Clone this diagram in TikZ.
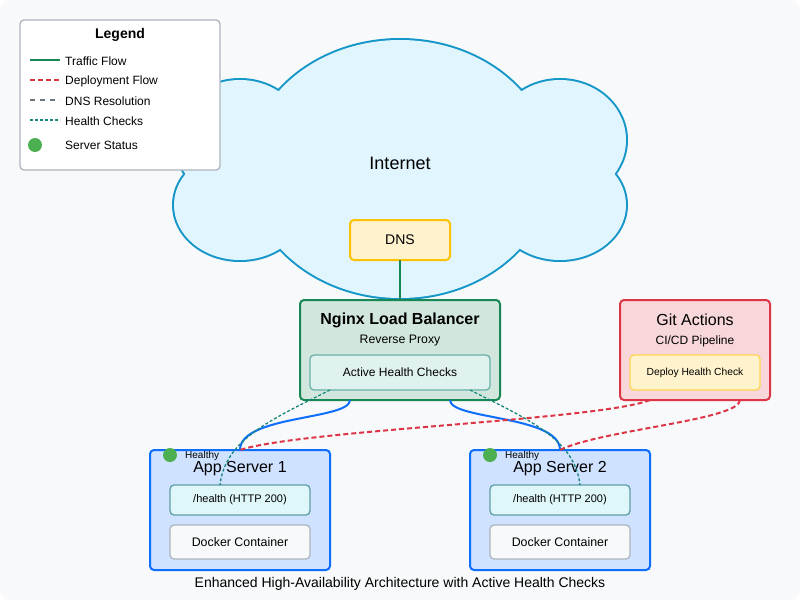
\documentclass[tikz,border=0pt]{standalone}
\usepackage{fontspec}
\setmainfont{Liberation Sans}
\definecolor{bgc}{HTML}{F8F9FA}
\definecolor{legline}{HTML}{ADB5BD}
\definecolor{cloudline}{HTML}{1496C8}
\definecolor{cloudfill}{HTML}{E1F5FE}
\definecolor{trafficc}{HTML}{198754}
\definecolor{deployc}{HTML}{DC3545}
\definecolor{dnsc}{HTML}{6C757D}
\definecolor{healthc}{HTML}{17877B}
\definecolor{bluec}{HTML}{0D6EFD}
\definecolor{appfill}{HTML}{CFE2FF}
\definecolor{hfill}{HTML}{E0F7FA}
\definecolor{hline}{HTML}{5F9EA8}
\definecolor{ngfill}{HTML}{D1E7DD}
\definecolor{ahcfill}{HTML}{E0F2EF}
\definecolor{ahcline}{HTML}{66B2A8}
\definecolor{gitfill}{HTML}{F8D7DA}
\definecolor{dnsfill}{HTML}{FFF3CD}
\definecolor{dnsline}{HTML}{FFC107}
\definecolor{depline}{HTML}{FFD54F}
\definecolor{dockfill}{HTML}{F8F9FA}
\definecolor{okgreen}{HTML}{4CAF50}
\begin{document}
\begin{tikzpicture}[x=1pt,y=-1pt,
  fs/.style={font=\fontsize{#1}{#1}\selectfont},
  fsb/.style={font=\fontsize{#1}{#1}\selectfont\bfseries},
  box/.style={draw, rounded corners=4pt, inner sep=0pt, outer sep=0pt},
  trafficln/.style={draw=trafficc, line width=2pt},
  blueln/.style={draw=bluec, line width=2pt},
  deployln/.style={draw=deployc, line width=2pt, dash pattern=on 5pt off 3pt},
  dnsln/.style={draw=dnsc, line width=2pt, dash pattern=on 5pt off 5pt},
  healthln/.style={draw=healthc, line width=1.3pt, dash pattern=on 3pt off 2pt},
  appbox/.style={box, fill=appfill, draw=bluec, line width=2pt, minimum width=180pt, minimum height=120pt},
  hbox/.style={box, fill=hfill, draw=hline, line width=1.3pt, minimum width=140pt, minimum height=30pt, fs=11},
  dockbox/.style={box, fill=dockfill, draw=legline, line width=1.3pt, minimum width=140pt, minimum height=34pt, fs=12.4},
  legtext/.style={fs=12, anchor=west, inner sep=0pt},
  dot/.style={circle, fill=okgreen, minimum size=14pt, inner sep=0pt}
]
\useasboundingbox (0,0) rectangle (800,600);
\fill[bgc, rounded corners=10pt] (0,0) rectangle (800,600);

% Cloud
\begin{scope}
  \foreach \cx/\cy/\rx/\ry in {400/169/152/129, 240/140/66/60, 560/140/66/60, 240/205/66/55, 560/205/66/55}
    \draw[cloudline, line width=4pt] (\cx,\cy) ellipse [x radius=\rx, y radius=\ry];
  \foreach \cx/\cy/\rx/\ry in {400/169/152/129, 240/140/66/60, 560/140/66/60, 240/205/66/55, 560/205/66/55}
    \fill[cloudfill] (\cx,\cy) ellipse [x radius=\rx, y radius=\ry];
\end{scope}
\node[fs=18] (internet) at (400,163) {Internet};

% Legend
\node[box, fill=white, draw=legline, line width=1.3pt, minimum width=200pt, minimum height=150pt] (legend) at (120,95) {};
\node[fsb=14] (legt) at (120,35) {Legend};
\draw[trafficln] (30,60) -- (60,60);
\draw[deployln] (30,80) -- (60,80);
\draw[dnsln] (30,100) -- (60,100);
\draw[healthln] (30,120) -- (60,120);
\node[dot] (legdot) at (35,145) {};
\node[legtext] (l1) at (65,61) {Traffic Flow};
\node[legtext] (l2) at (65,81) {Deployment Flow};
\node[legtext] (l3) at (65,101) {DNS Resolution};
\node[legtext] (l4) at (65,121) {Health Checks};
\node[legtext] (l5) at (65,145) {Server Status};

% DNS
\node[box, fill=dnsfill, draw=dnsline, line width=2pt, minimum width=100pt, minimum height=40pt, fs=14] (dns) at (400,240) {DNS};

% Nginx
\node[box, fill=ngfill, draw=trafficc, line width=2pt, minimum width=200pt, minimum height=100pt] (nginx) at (400,350) {};
\node[fsb=16] (ngt) at (400,320) {Nginx Load Balancer};
\node[fs=12.3] (ngs) at (400,341) {Reverse Proxy};
\node[box, fill=ahcfill, draw=ahcline, line width=1.3pt, minimum width=180pt, minimum height=35pt, fs=12] (ahc) at (400,372.5) {Active Health Checks};

% Git Actions
\node[box, fill=gitfill, draw=deployc, line width=2pt, minimum width=150pt, minimum height=100pt] (git) at (695,350) {};
\node[fs=16] (gitt) at (695,320) {Git Actions};
\node[fs=12] (gits) at (695,341) {CI/CD Pipeline};
\node[box, fill=dnsfill, draw=depline, line width=1.3pt, minimum width=130pt, minimum height=35pt, fs=10.3] (dep) at (695,372.5) {Deploy Health Check};

% App servers
\node[appbox] (app1) at (240,510) {};
\node[dot] (dot1) at (170,455) {};
\node[fs=10, anchor=west, inner sep=0pt] (h1) at (185,456) {Healthy};
\node[fs=16] (a1t) at (240,469) {App Server 1};
\node[hbox] (health1) at (240,500) {/health (HTTP 200)};
\node[dockbox] (dock1) at (240,542) {Docker Container};

\node[appbox] (app2) at (560,510) {};
\node[dot] (dot2) at (490,455) {};
\node[fs=10, anchor=west, inner sep=0pt] (h2) at (505,456) {Healthy};
\node[fs=16] (a2t) at (560,469) {App Server 2};
\node[hbox] (health2) at (560,500) {/health (HTTP 200)};
\node[dockbox] (dock2) at (560,542) {Docker Container};

% Connectors
\draw[trafficln] (dns.south) -- (nginx.north);
\draw[blueln] ([xshift=-50pt]nginx.south) .. controls +(0,20) and +(0,-35) .. (app1.north);
\draw[blueln] ([xshift=50pt]nginx.south) .. controls +(0,20) and +(0,-35) .. (app2.north);
\draw[healthln] ([xshift=-70pt]ahc.south) .. controls +(-60,30) and +(5,-45) .. ([xshift=-20pt]health1.north);
\draw[healthln] ([xshift=70pt]ahc.south) .. controls +(60,30) and +(-5,-45) .. ([xshift=20pt]health2.north);
\draw[deployln] ([xshift=-45pt]git.south) .. controls +(-50,20) and +(60,-20) .. (app1.north);
\draw[deployln] ([xshift=45pt]git.south) .. controls +(0,20) and +(40,-20) .. (app2.north);

% Caption
\node[fs=14] (cap) at (400,584) {Enhanced High-Availability Architecture with Active Health Checks};
\end{tikzpicture}
\end{document}
